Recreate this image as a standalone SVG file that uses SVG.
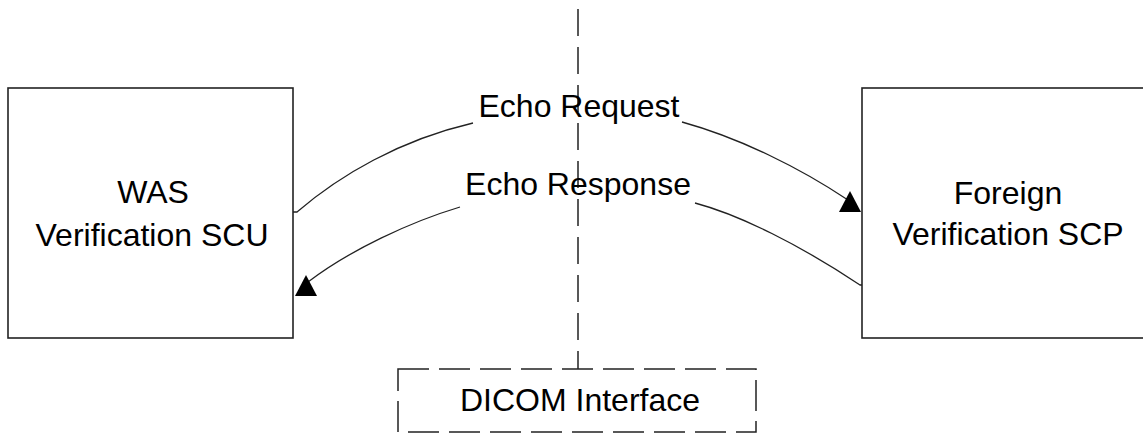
<svg xmlns="http://www.w3.org/2000/svg" width="1143" height="434" viewBox="0 0 1143 434">
<style>
.box{fill:none;stroke:#222;stroke-width:1.6}
.dash{fill:none;stroke:#222;stroke-width:1.5;stroke-dasharray:27 11}
.dbox{fill:none;stroke:#222;stroke-width:1.5;stroke-dasharray:31 10}
.conn{fill:none;stroke:#222;stroke-width:1.3}
.head{fill:#000;stroke:none}
.lbl{font-family:"Liberation Sans",Arial,sans-serif;font-size:32px;fill:#000;text-anchor:middle}
</style>
<defs>
<path id="tri" d="M0,-21 L11,0 L-11,0 Z"/>
</defs>
<rect width="1143" height="434" fill="#fff"/>
<g id="interface-line">
<path class="dash" d="M578,-29 V369"/>
</g>
<g id="scu">
<rect class="box" x="8" y="88" width="285" height="250"/>
<text class="lbl" x="153" y="203">WAS</text>
<text class="lbl" x="152" y="246">Verification SCU</text>
</g>
<g id="scp">
<rect class="box" x="862" y="88" width="300" height="250"/>
<text class="lbl" x="1008" y="204">Foreign</text>
<text class="lbl" x="1008" y="245">Verification SCP</text>
</g>
<g id="dicom">
<rect class="dbox" x="398" y="369" width="358" height="63"/>
<text class="lbl" x="580" y="411">DICOM Interface</text>
</g>
<g id="connectors">
<path class="conn" d="M293,212 H297 C340,175 400,140 473,123 M682,122 C740,138 800,168 848,200"/>
<use href="#tri" class="head" x="850" y="212"/>
<text class="lbl" x="579" y="117">Echo Request</text>
<path class="conn" d="M695,203 C740,215 800,245 860,285 H862 M460,207 C410,222 350,250 308,282"/>
<use href="#tri" class="head" x="306" y="296"/>
<text class="lbl" x="578" y="195">Echo Response</text>
</g>
</svg>
